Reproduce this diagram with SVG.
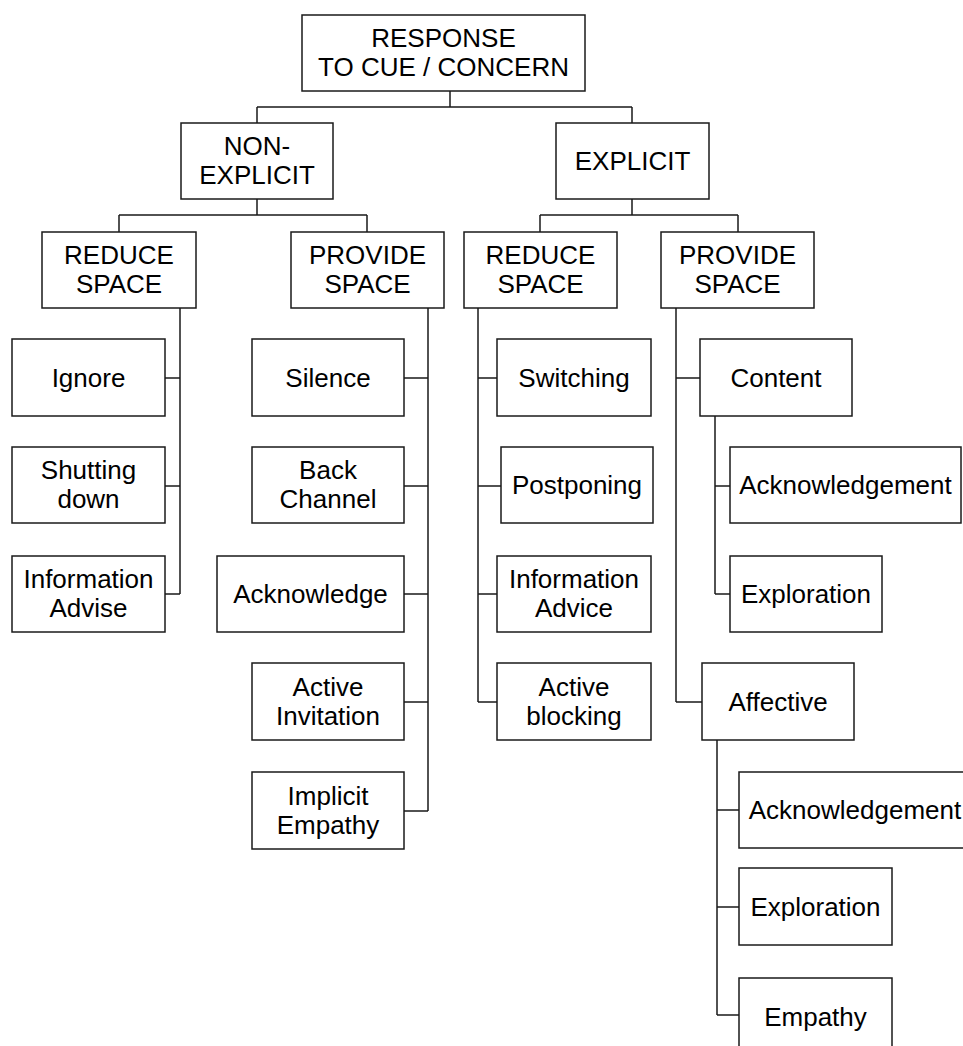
<svg xmlns="http://www.w3.org/2000/svg" width="963" height="1046" viewBox="0 0 963 1046">
<style>
rect{fill:#fff;stroke:#1a1a1a;stroke-width:1.5}
text{font-family:"Liberation Sans",Arial,sans-serif;font-size:26px;fill:#000;text-anchor:middle}
.c path{fill:none;stroke:#1a1a1a;stroke-width:1.5}
</style>
<rect x="0" y="0" width="963" height="1046" style="fill:#fff;stroke:none"/>
<g class="c" id="connectors">
<path d="M450,91V107M257,107H632M257,107V123M632,107V123"/>
<path d="M257,199V215M119,215H367M119,215V232M367,215V232"/>
<path d="M632,199V215M540,215H738M540,215V232M738,215V232"/>
<path d="M180,308V594M165,378H180M165,486H180M165,594H180"/>
<path d="M428,308V811M404,378H428M404,486H428M404,594H428M404,702H428M404,811H428"/>
<path d="M478,308V702M478,378H497M478,486H501M478,594H497M478,702H497"/>
<path d="M676,308V702M676,378H700M676,702H702"/>
<path d="M715,416V594M715,486H730M715,594H730"/>
<path d="M717,740V1015M717,810H739M717,907H739M717,1015H739"/>
</g>
<g id="root"><rect x="302" y="15" width="283" height="76"/><text x="443.5" y="47">RESPONSE</text><text x="443.5" y="76">TO CUE / CONCERN</text></g>
<g id="nonexplicit"><rect x="181" y="123" width="152" height="76"/><text x="257" y="155">NON-</text><text x="257" y="184">EXPLICIT</text></g>
<g id="explicit"><rect x="556" y="123" width="153" height="76"/><text x="632.5" y="170">EXPLICIT</text></g>
<g id="ne-reduce"><rect x="42" y="232" width="154" height="76"/><text x="119" y="264">REDUCE</text><text x="119" y="293">SPACE</text></g>
<g id="ne-provide"><rect x="291" y="232" width="153" height="76"/><text x="367.5" y="264">PROVIDE</text><text x="367.5" y="293">SPACE</text></g>
<g id="ex-reduce"><rect x="464" y="232" width="153" height="76"/><text x="540.5" y="264">REDUCE</text><text x="540.5" y="293">SPACE</text></g>
<g id="ex-provide"><rect x="661" y="232" width="153" height="76"/><text x="737.5" y="264">PROVIDE</text><text x="737.5" y="293">SPACE</text></g>
<g id="ignore"><rect x="12" y="339" width="153" height="77"/><text x="88.5" y="386.5">Ignore</text></g>
<g id="shutting"><rect x="12" y="447" width="153" height="76"/><text x="88.5" y="479">Shutting</text><text x="88.5" y="508">down</text></g>
<g id="info-advise"><rect x="12" y="556" width="153" height="76"/><text x="88.5" y="588">Information</text><text x="88.5" y="617">Advise</text></g>
<g id="silence"><rect x="252" y="339" width="152" height="77"/><text x="328" y="386.5">Silence</text></g>
<g id="backchannel"><rect x="252" y="447" width="152" height="76"/><text x="328" y="479">Back</text><text x="328" y="508">Channel</text></g>
<g id="acknowledge"><rect x="217" y="556" width="187" height="76"/><text x="310.5" y="603">Acknowledge</text></g>
<g id="active-invitation"><rect x="252" y="663" width="152" height="77"/><text x="328" y="695.5">Active</text><text x="328" y="724.5">Invitation</text></g>
<g id="implicit-empathy"><rect x="252" y="772" width="152" height="77"/><text x="328" y="804.5">Implicit</text><text x="328" y="833.5">Empathy</text></g>
<g id="switching"><rect x="497" y="339" width="154" height="77"/><text x="574" y="386.5">Switching</text></g>
<g id="postponing"><rect x="501" y="447" width="152" height="76"/><text x="577" y="494">Postponing</text></g>
<g id="info-advice"><rect x="497" y="556" width="154" height="76"/><text x="574" y="588">Information</text><text x="574" y="617">Advice</text></g>
<g id="active-blocking"><rect x="497" y="663" width="154" height="77"/><text x="574" y="695.5">Active</text><text x="574" y="724.5">blocking</text></g>
<g id="content"><rect x="700" y="339" width="152" height="77"/><text x="776" y="386.5">Content</text></g>
<g id="content-ack"><rect x="730" y="447" width="231" height="76"/><text x="845.5" y="494">Acknowledgement</text></g>
<g id="content-exp"><rect x="730" y="556" width="152" height="76"/><text x="806" y="603">Exploration</text></g>
<g id="affective"><rect x="702" y="663" width="152" height="77"/><text x="778" y="710.5">Affective</text></g>
<g id="aff-ack"><rect x="739" y="772" width="232" height="76"/><text x="855" y="819">Acknowledgement</text></g>
<g id="aff-exp"><rect x="739" y="868" width="153" height="77"/><text x="815.5" y="915.5">Exploration</text></g>
<g id="aff-empathy"><rect x="739" y="978" width="153" height="77"/><text x="815.5" y="1025.5">Empathy</text></g>
</svg>
